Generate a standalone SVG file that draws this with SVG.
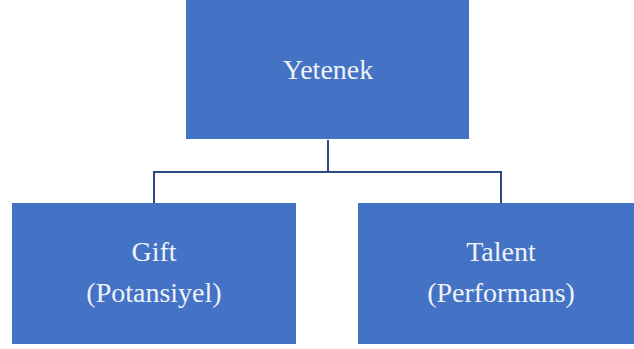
<svg xmlns="http://www.w3.org/2000/svg" width="634" height="349" viewBox="0 0 634 349">
<style>
.box{fill:#4472C4;}
.lbl{font-family:"Liberation Serif","Times New Roman",serif;font-size:28px;fill:#EEF2FA;text-anchor:middle;}
.conn{fill:none;stroke:#2E4A7D;stroke-width:2;}
</style>
<rect width="634" height="349" fill="#FFFFFF"/>
<g id="connectors">
<path class="conn" d="M328 140 V172 M154 172 H501 M154 171 V203 M501 171 V203"/>
</g>
<g id="yetenek">
<rect class="box" x="186" y="0" width="283" height="139"/>
<text class="lbl" x="328" y="79" font-size="27">Yetenek</text>
</g>
<g id="gift">
<rect class="box" x="12" y="203" width="284" height="141"/>
<text class="lbl" x="154" y="261">Gift</text>
<text class="lbl" x="154" y="302">(Potansiyel)</text>
</g>
<g id="talent">
<rect class="box" x="358" y="203" width="286" height="141"/>
<text class="lbl" x="501" y="261">Talent</text>
<text class="lbl" x="501" y="302">(Performans)</text>
</g>
</svg>
